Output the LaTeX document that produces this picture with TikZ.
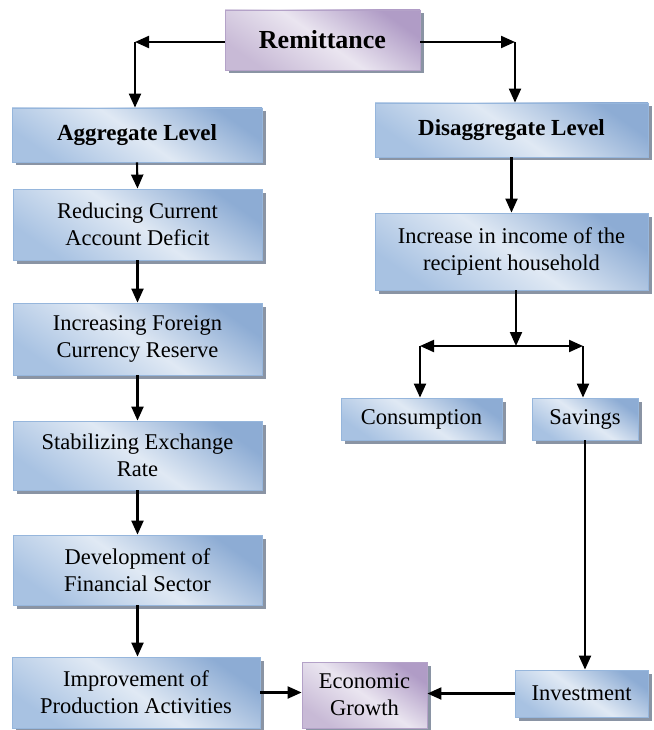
\documentclass[tikz,border=0pt]{standalone}
\usepackage{fontspec}
\setmainfont{Liberation Serif}
\usetikzlibrary{shadows,arrows.meta}
\definecolor{bdark}{RGB}{141,172,212}
\definecolor{bmid}{RGB}{168,194,226}
\definecolor{blight}{RGB}{224,233,244}
\definecolor{bborder}{RGB}{150,182,220}
\definecolor{pdark}{RGB}{176,156,198}
\definecolor{pmid}{RGB}{200,186,214}
\definecolor{plight}{RGB}{234,229,240}
\definecolor{pborder}{RGB}{180,162,200}
\definecolor{shadowc}{RGB}{138,148,164}
\tikzset{
  basebox/.style={rectangle, inner sep=0pt, align=center, line width=0.8pt,
    font=\fontsize{22.5}{27}\selectfont,
    drop shadow={shadow xshift=3.5pt, shadow yshift=-3.5pt, fill=shadowc, opacity=1}},
  bbox/.style={basebox, draw=bborder, top color=bdark, bottom color=bmid, middle color=blight, shading angle=-35},
  pbox/.style={basebox, draw=pborder, top color=pdark, bottom color=pmid, middle color=plight, shading angle=-35},
  conn/.style={line width=2.1pt, -{Triangle[width=12pt,length=14pt]}},
}
\begin{document}
\begin{tikzpicture}[x=1pt,y=-1pt]
\useasboundingbox (0,0) rectangle (653,730);
% nodes
\node[pbox, minimum width=195pt, minimum height=60pt, font=\fontsize{26}{30}\selectfont\bfseries] (rem) at (322.5,40) {Remittance};
\node[bbox, minimum width=250pt, minimum height=54pt, font=\fontsize{23}{27}\selectfont\bfseries] (agg) at (137,135) {Aggregate Level};
\node[bbox, minimum width=273pt, minimum height=54pt, font=\fontsize{23}{27}\selectfont\bfseries] (dis) at (511.5,130) {Disaggregate Level};
\node[bbox, minimum width=249pt, minimum height=71pt] (red) at (137.5,224.5) {Reducing Current\\Account Deficit};
\node[bbox, minimum width=249pt, minimum height=72pt] (ifr) at (137.5,339) {Increasing Foreign\\Currency Reserve};
\node[bbox, minimum width=249pt, minimum height=69pt] (ser) at (137.5,455.5) {Stabilizing Exchange\\Rate};
\node[bbox, minimum width=249pt, minimum height=70pt] (dfs) at (137.5,570) {Development of\\Financial Sector};
\node[bbox, minimum width=248pt, minimum height=71pt] (ipa) at (136,692.5) {Improvement of\\Production Activities};
\node[pbox, minimum width=125pt, minimum height=66pt] (eco) at (364.5,695) {Economic\\Growth};
\node[bbox, minimum width=133pt, minimum height=47pt] (inv) at (581.5,693.5) {Investment};
\node[bbox, minimum width=273pt, minimum height=77pt] (inc) at (511.5,251.5) {Increase in income of the\\recipient household};
\node[bbox, minimum width=161pt, minimum height=42pt] (con) at (421.5,419) {Consumption};
\node[bbox, minimum width=106pt, minimum height=42pt] (sav) at (585,419) {Savings};
% junction coordinates
\coordinate (cL) at (135,42);
\coordinate (cR) at (515,42);
\coordinate (cM) at (516,346);
\coordinate (cML) at (420,346);
\coordinate (cMR) at (583,346);
% connectors
\draw[conn] (rem.west |- cL) -- (cL);
\draw[conn] (cL) -- (cL |- agg.north);
\draw[conn] (rem.east |- cR) -- (cR);
\draw[conn] (cR) -- (cR |- dis.north);
\draw[conn] (agg.south) -- (red.north);
\draw[conn] (red.south) -- (ifr.north);
\draw[conn] (ifr.south) -- (ser.north);
\draw[conn] (ser.south) -- (dfs.north);
\draw[conn] (dfs.south) -- (dfs.south |- ipa.north);
\draw[conn] (dis.south) -- (dis.south |- inc.north);
\draw[conn] (inc.south -| cM) -- (cM);
\draw[conn] (cM) -- (cML);
\draw[conn] (cM) -- (cMR);
\draw[conn] (cML) -- (cML |- con.north);
\draw[conn] (cMR) -- (cMR |- sav.north);
\draw[conn] (sav.south) -- (sav.south |- inv.north);
\draw[conn] (inv.west) -- (inv.west -| eco.east);
\draw[conn] (ipa.east) -- (ipa.east -| eco.west);
\end{tikzpicture}
\end{document}
